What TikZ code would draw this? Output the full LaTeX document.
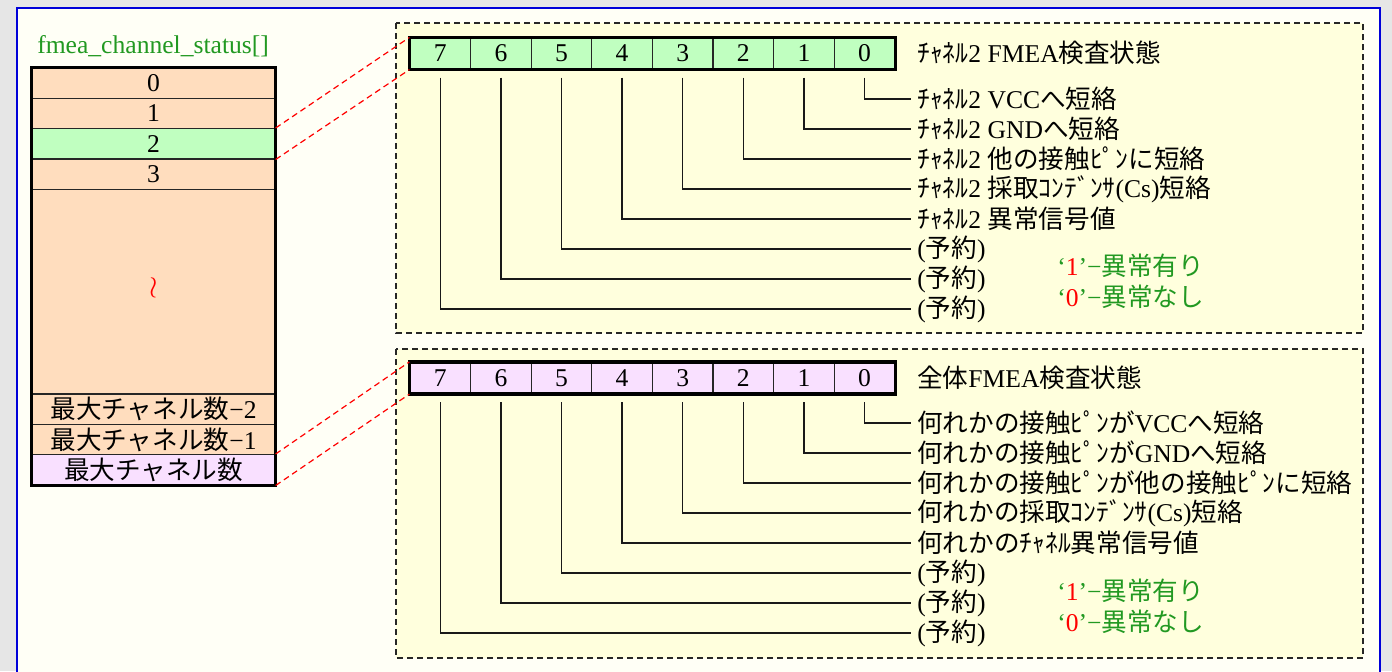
\documentclass[tikz,border=0pt]{standalone}
\usepackage{fontspec}
\setmainfont{Liberation Serif}
\newfontfamily\jp{Noto Sans CJK JP}
\usetikzlibrary{calc}
\definecolor{pagegray}{HTML}{E6E6E6}
\definecolor{framefill}{HTML}{FFFFF6}
\definecolor{panelfill}{HTML}{FFFFDD}
\definecolor{peach}{HTML}{FFDDBE}
\definecolor{bitgreen}{HTML}{C0FFC0}
\definecolor{bitpink}{HTML}{F9E0FF}
\definecolor{namegreen}{HTML}{229922}
\newdimen\px \px=0.025cm
\tikzset{
	arrcell/.style={draw=black!85, line width=1.2\px, minimum width=243\px, minimum height=30.3\px, inner sep=0pt, fill=peach},
	bitcell/.style={draw=black!85, line width=1.2\px, minimum width=60.6\px, minimum height=31\px, inner sep=0pt},
	bitlabel/.style={anchor=west, inner xsep=6\px, inner ysep=0pt},
	bitline/.style={line width=1.5\px, black!90},
	linkline/.style={red, line width=1.2\px, dash pattern=on 6\px off 4\px},
	panel/.style={fill=panelfill, draw=black!85, line width=1.3\px, dash pattern=on 6\px off 4\px},
	legend/.style={anchor=west, inner sep=0pt, namegreen}
}

\begin{document}
\begin{tikzpicture}[x=0.025cm, y=-0.025cm, font=\fontsize{18.2}{22}\selectfont]
		%%%%% START %%%%%
		\useasboundingbox (0,0) rectangle (1392,671);
		\fill[pagegray] (0,0) rectangle (1392,671);
		\draw[blue!85!black, fill=framefill, line width=2\px] (17,8) rectangle (1380,700);
		
		\draw[panel] (396,23) rectangle (1363,333);
		\draw[panel] (396,349) rectangle (1363,658);
		
		%%%%% ARRAY %%%%%
		\node[namegreen, anchor=base west, inner sep=0pt] (arrname) at (37,53) {fmea\_channel\_status[]};
		
		\node[arrcell] (r0) at (153.5,83.15) {0};
		\node[arrcell] (r1) at (153.5,113.45) {1};
		\node[arrcell, fill=bitgreen] (r2) at (153.5,143.75) {2};
		\node[arrcell] (r3) at (153.5,174.05) {3};
		\node[arrcell, minimum height=204.8\px] (rgap) at (153.5,291.6) {};
		\node[red, scale=1.25] (wave) at (153.5,288) {$\wr$};
		\node[arrcell] (rm2) at (153.5,409.15) {{\jp 最大チャネル数}−2};
		\node[arrcell] (rm1) at (153.5,439.45) {{\jp 最大チャネル数}−1};
		\node[arrcell, fill=bitpink] (rmax) at (153.5,469.75) {{\jp 最大チャネル数}};
		\draw[line width=3.5\px] (r0.north west) rectangle (rmax.south east);
		
		%%%%% CHANNEL BITS %%%%%
		\foreach \b [count=\i from 0] in {7,6,...,0}
			\node[bitcell, fill=bitgreen] (top\b) at ({410+60.6*(\i+0.5)},53.5) {\b};
		\draw[line width=3.5\px] (top7.north west) rectangle (top0.south east);
		
		\node[bitlabel] (toptitle) at (911,53) {{\jp ﾁｬﾈﾙ}2 FMEA{\jp 検査状態}};
		\node[bitlabel] (topl0) at (911,99) {{\jp ﾁｬﾈﾙ}2 VCC{\jp へ短絡}};
		\node[bitlabel] (topl1) at (911,129) {{\jp ﾁｬﾈﾙ}2 GND{\jp へ短絡}};
		\node[bitlabel] (topl2) at (911,159) {{\jp ﾁｬﾈﾙ}2 {\jp 他の接触ﾋﾟﾝに短絡}};
		\node[bitlabel] (topl3) at (911,189) {{\jp ﾁｬﾈﾙ}2 {\jp 採取ｺﾝﾃﾞﾝｻ}(Cs){\jp 短絡}};
		\node[bitlabel] (topl4) at (911,219) {{\jp ﾁｬﾈﾙ}2 {\jp 異常信号値}};
		\node[bitlabel] (topl5) at (911,249) {({\jp 予約})};
		\node[bitlabel] (topl6) at (911,279) {({\jp 予約})};
		\node[bitlabel] (topl7) at (911,309) {({\jp 予約})};
		\foreach \b in {0,...,7}
			\draw[bitline] ($(top\b.south)+(0,8)$) |- (topl\b.west);
		
		\node[legend] (topone) at (1057,266) {‘\textcolor{red}{1}’−{\jp 異常有り}};
		\node[legend] (topzero) at (1057,297) {‘\textcolor{red}{0}’−{\jp 異常なし}};
		
		%%%%% ALL BITS %%%%%
		\foreach \b [count=\i from 0] in {7,6,...,0}
			\node[bitcell, fill=bitpink] (all\b) at ({410+60.6*(\i+0.5)},378) {\b};
		\draw[line width=3.5\px] (all7.north west) rectangle (all0.south east);
		
		\node[bitlabel] (alltitle) at (911,378) {{\jp 全体}FMEA{\jp 検査状態}};
		\node[bitlabel] (alll0) at (911,423) {{\jp 何れかの接触ﾋﾟﾝが}VCC{\jp へ短絡}};
		\node[bitlabel] (alll1) at (911,453) {{\jp 何れかの接触ﾋﾟﾝが}GND{\jp へ短絡}};
		\node[bitlabel] (alll2) at (911,483) {{\jp 何れかの接触ﾋﾟﾝが他の接触ﾋﾟﾝに短絡}};
		\node[bitlabel] (alll3) at (911,513) {{\jp 何れかの採取ｺﾝﾃﾞﾝｻ}(Cs){\jp 短絡}};
		\node[bitlabel] (alll4) at (911,543) {{\jp 何れかのﾁｬﾈﾙ異常信号値}};
		\node[bitlabel] (alll5) at (911,573) {({\jp 予約})};
		\node[bitlabel] (alll6) at (911,603) {({\jp 予約})};
		\node[bitlabel] (alll7) at (911,633) {({\jp 予約})};
		\foreach \b in {0,...,7}
			\draw[bitline] ($(all\b.south)+(0,8)$) |- (alll\b.west);
		
		\node[legend] (allone) at (1057,591) {‘\textcolor{red}{1}’−{\jp 異常有り}};
		\node[legend] (allzero) at (1057,622) {‘\textcolor{red}{0}’−{\jp 異常なし}};
		
		%%%%% LINKS %%%%%
		\draw[linkline] (r2.north east) -- (top7.north west);
		\draw[linkline] (r2.south east) -- (top7.south west);
		\draw[linkline] (rmax.north east) -- (all7.north west);
		\draw[linkline] (rmax.south east) -- (all7.south west);
		%%%%% END %%%%%
\end{tikzpicture}
\end{document}
